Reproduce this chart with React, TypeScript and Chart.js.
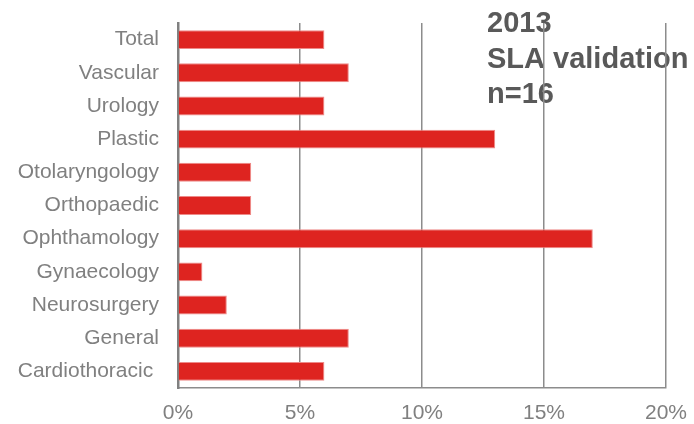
import React, { useEffect, useRef } from "react";
import { Chart, registerables } from "chart.js";

Chart.register(...registerables);

const categories = [
  "Total",
  "Vascular",
  "Urology",
  "Plastic",
  "Otolaryngology",
  "Orthopaedic",
  "Ophthamology",
  "Gynaecology",
  "Neurosurgery",
  "General",
  "Cardiothoracic ",
];
const percentValues = [6, 7, 6, 13, 3, 3, 17, 1, 2, 7, 6];
const xTicks = [0, 5, 10, 15, 20];
const titleLines = ["2013", "SLA validation", "n=16"];

const FONT = "'Liberation Sans', Arial, sans-serif";

const titlePlugin = {
  id: "cornerTitle",
  beforeDraw(chart: any) {
    const ctx = chart.ctx;
    ctx.save();
    ctx.font = "bold 29px " + FONT;
    ctx.fillStyle = "#595959";
    ctx.textAlign = "left";
    ctx.textBaseline = "alphabetic";
    const baselines = [32, 68, 103];
    titleLines.forEach((t, i) => ctx.fillText(t, 487, baselines[i]));
    ctx.restore();
  },
};

const zeroPad = (scale: any) => {
  scale.paddingTop = 0;
  scale.paddingBottom = 0;
  scale.paddingLeft = 0;
  scale.paddingRight = 0;
};

export default function App() {
  const ref = useRef<HTMLCanvasElement>(null);
  useEffect(() => {
    document.body.style.margin = "0";
    const chart = new Chart(ref.current!, {
      type: "bar",
      data: {
        labels: categories,
        datasets: [
          {
            data: percentValues,
            backgroundColor: "#DE2420",
            borderColor: "#EE8A88",
            borderWidth: 1,
            categoryPercentage: 1,
            barPercentage: 0.57,
          },
        ],
      },
      plugins: [titlePlugin],
      options: {
        indexAxis: "y",
        animation: false,
        responsive: false,
        layout: { padding: { top: 23, right: 28, left: 0, bottom: 0 } },
        plugins: { legend: { display: false }, tooltip: { enabled: false } },
        scales: {
          x: {
            min: 0,
            max: 20,
            afterBuildTicks: (scale: any) => {
              scale.ticks = xTicks.map((v) => ({ value: v }));
            },
            afterFit: (scale: any) => {
              scale.height = 36;
              zeroPad(scale);
            },
            grid: { color: "#8c8c8c", lineWidth: 1.5, drawTicks: false },
            border: { color: "#8c8c8c", width: 1.5 },
            ticks: {
              padding: 13,
              color: "#808080",
              font: { family: FONT, size: 21 },
              callback: (v: any) => v + "%",
            },
          },
          y: {
            afterFit: (scale: any) => {
              scale.width = 178;
              zeroPad(scale);
            },
            grid: { display: false, drawTicks: false },
            border: { color: "#808080", width: 2.5 },
            ticks: {
              padding: 19,
              color: "#808080",
              font: { family: FONT, size: 21 },
            },
          },
        },
      },
    });
    return () => chart.destroy();
  }, []);
  return (
    <div style={{ width: 694, height: 424 }}>
      <canvas ref={ref} width={694} height={424} />
    </div>
  );
}
